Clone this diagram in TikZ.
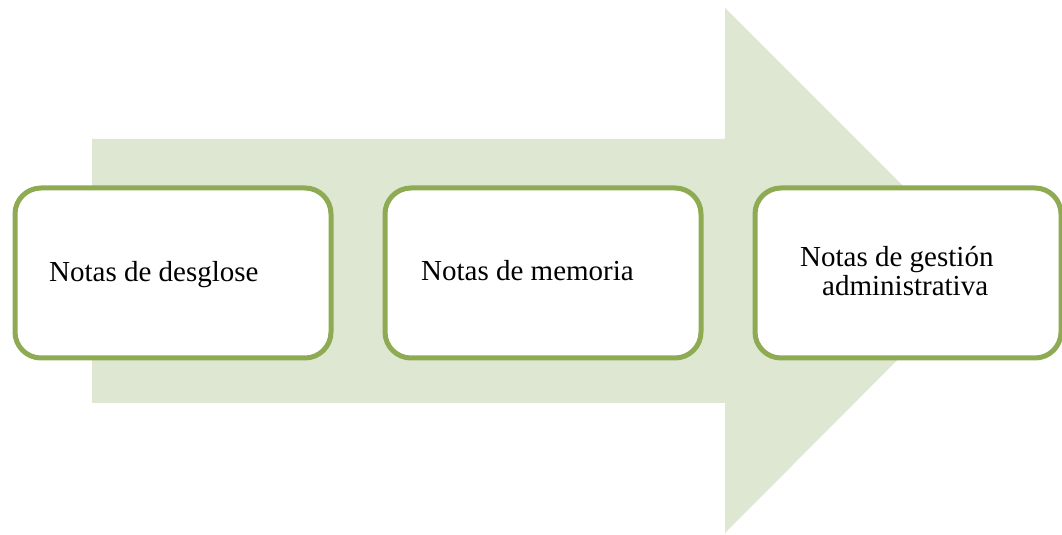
\documentclass[tikz,border=0pt]{standalone}
\usepackage{fontspec}
\setmainfont{Liberation Serif}
\definecolor{arrowfill}{RGB}{222,231,209}
\definecolor{boxline}{RGB}{142,171,84}
\begin{document}
\begin{tikzpicture}[x=1pt,y=1pt,
  notebox/.style={draw=boxline,line width=5pt,fill=white,rounded corners=26pt,
    minimum width=316pt,minimum height=170pt,inner sep=0pt,anchor=north west},
  notetext/.style={font=\fontsize{29}{29}\selectfont,inner sep=0pt,anchor=base west,text=black}]
\useasboundingbox (0,0) rectangle (1062,535);
% big arrow
\fill[arrowfill] (92,396) -- (725,396) -- (725,527) -- (987,265) -- (725,2) -- (725,132) -- (92,132) -- cycle;
% boxes
\node[notebox] (b1) at (12.5,349.5) {};
\node[notebox] (b2) at (382.5,349.5) {};
\node[notebox,minimum width=306pt] (b3) at (752.5,349.5) {};
% texts
\node[notetext] (t1) at (49,253) {Notas de desglose};
\node[notetext] (t2) at (421,254) {Notas de memoria};
\node[notetext] (t3a) at (800,268) {Notas de gestión};
\node[notetext] (t3b) at (822,239) {administrativa};
\end{tikzpicture}
\end{document}
